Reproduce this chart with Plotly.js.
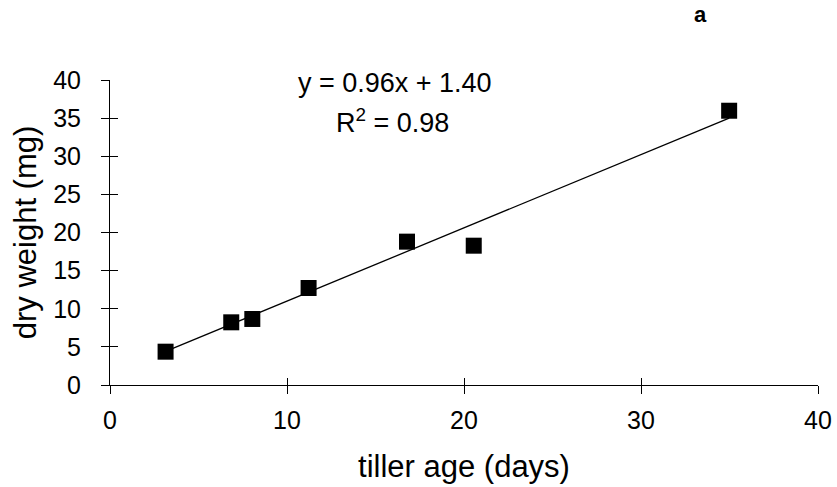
<!DOCTYPE html>
<html>
<head>
<meta charset="utf-8">
<script src="https://cdn.plot.ly/plotly-3.0.1.min.js"></script>
<style>
  html, body { margin: 0; padding: 0; background: #fff; }
  #chart { width: 837px; height: 487px; }
</style>
</head>
<body>
<div id="chart"></div>
<script>
// Data
const tillerAge = [3.14, 6.85, 8.04, 11.22, 16.78, 20.55, 34.98];
const dryWeight = [4.37, 8.22, 8.66, 12.72, 18.80, 18.27, 35.97];
// trend line end points as drawn in the picture
const trendX = [3.14, 34.98];
const trendY = [4.41, 35.0];
const xTickVals = [0, 10, 20, 30, 40];
const yTickVals = [0, 5, 10, 15, 20, 25, 30, 35, 40];
const equationText = 'y = 0.96x + 1.40';
const r2Text = 'R<sup>2</sup> = 0.98';
const panelLabel = 'a';
const xTitle = 'tiller age (days)';
const yTitle = 'dry weight (mg)';

const fontFam = 'Liberation Sans, Arial, Helvetica, sans-serif';

const traces = [
  {
    x: trendX, y: trendY, type: 'scatter', mode: 'lines',
    line: { color: '#000', width: 1.3 }, hoverinfo: 'skip', showlegend: false
  },
  {
    x: tillerAge, y: dryWeight, type: 'scatter', mode: 'markers',
    marker: { symbol: 'square', size: 16, color: '#000' }, showlegend: false,
    cliponaxis: false
  },
  {
    x: [null], y: [null], xaxis: 'x2', yaxis: 'y2', type: 'scatter',
    mode: 'markers', showlegend: false, hoverinfo: 'skip'
  }
];

const layout = {
  width: 837, height: 487,
  margin: { l: 110, r: 19, t: 80, b: 102 },
  paper_bgcolor: '#fff', plot_bgcolor: '#fff',
  font: { family: fontFam, color: '#000' },
  showlegend: false,
  xaxis: {
    range: [0, 40], tickvals: xTickVals, ticktext: xTickVals.map(String),
    showgrid: false, zeroline: false, showline: true, linecolor: '#000', linewidth: 1,
    ticks: 'outside', ticklen: 8, tickwidth: 1, tickcolor: '#000',
    tickfont: { size: 25, family: fontFam }, ticklabelstandoff: 5,
    title: { text: xTitle, font: { size: 31, family: fontFam }, standoff: 22 }
  },
  yaxis: {
    range: [0, 40], tickvals: yTickVals, ticktext: yTickVals.map(String),
    showgrid: false, zeroline: false, showline: true, linecolor: '#000', linewidth: 1,
    ticks: 'outside', ticklen: 8, tickwidth: 1, tickcolor: '#000',
    tickfont: { size: 25, family: fontFam }, ticklabelstandoff: 15,
    title: { text: yTitle, font: { size: 31, family: fontFam }, standoff: 7 }
  },
  xaxis2: {
    overlaying: 'x', matches: 'x', range: [0, 40], tickvals: xTickVals,
    showticklabels: false, showgrid: false, zeroline: false, showline: false,
    ticks: 'inside', ticklen: 7, tickwidth: 1, tickcolor: '#000', anchor: 'y2'
  },
  yaxis2: {
    overlaying: 'y', matches: 'y', range: [0, 40], tickvals: yTickVals,
    showticklabels: false, showgrid: false, zeroline: false, showline: false,
    ticks: 'inside', ticklen: 8, tickwidth: 1, tickcolor: '#000', anchor: 'x2'
  },
  annotations: [
    { x: 16.08, y: 39.6, xref: 'x', yref: 'y', text: equationText, showarrow: false,
      font: { size: 27, family: fontFam }, xanchor: 'center', yanchor: 'middle' },
    { x: 15.95, y: 34.6, xref: 'x', yref: 'y', text: r2Text, showarrow: false,
      font: { size: 27, family: fontFam }, xanchor: 'center', yanchor: 'middle' },
    { x: 0.8, y: 1.2, xref: 'paper', yref: 'paper', text: '<b>' + panelLabel + '</b>', showarrow: false,
      font: { size: 22, family: fontFam }, xanchor: 'center', yanchor: 'middle' }
  ]
};
// panel label placed in paper units from its pixel position in the picture
layout.annotations[2].x = (700 - 110) / (837 - 110 - 19);
layout.annotations[2].y = 1 + (80 - 14) / (487 - 80 - 102);

Plotly.newPlot('chart', traces, layout, { displayModeBar: false, staticPlot: true });
</script>
</body>
</html>
